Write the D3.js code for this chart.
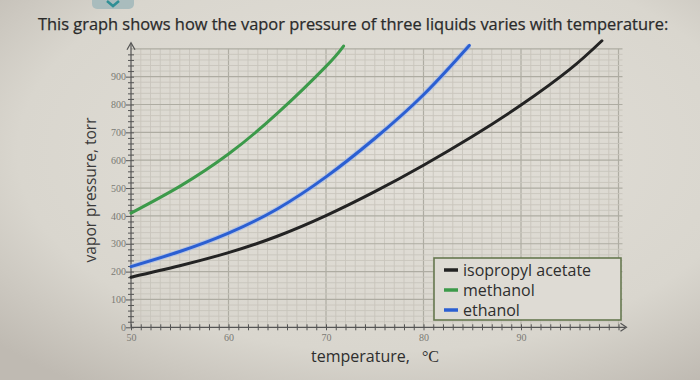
<!DOCTYPE html>
<html><head><meta charset="utf-8">
<script src="https://cdn.jsdelivr.net/npm/d3@7"></script>
<style>html,body{margin:0;padding:0;background:#dcd9d1;}svg{display:block;}</style>
</head><body>
<svg id="c" width="700" height="380"></svg>
<script>
// ---- data ----
const seriesNames = ["isopropyl acetate", "methanol", "ethanol"];
const seriesColors = ["#232323", "#3c9a4a", "#2b5fd2"];
const tempsIsopropyl = [50, 55, 60, 65, 70, 75, 80, 85, 90, 95, 98.3];
const pressIsopropyl = [180, 221, 268, 327, 401, 487, 582, 685, 798, 926, 1029];
const tempsMethanol = [50, 55, 60, 65, 70, 71.8];
const pressMethanol = [410, 506, 622, 768, 937, 1010];
const tempsEthanol = [50, 55, 60, 65, 70, 75, 80, 84.7];
const pressEthanol = [218, 272, 338, 425, 540, 678, 835, 1012];
const xTickLabels = [50, 60, 70, 80, 90];
const yTickLabels = [0, 100, 200, 300, 400, 500, 600, 700, 800, 900];
const titleText = "This graph shows how the vapor pressure of three liquids varies with temperature:";

const svg = d3.select("#c");
const defs = svg.append("defs");
const rg = defs.append("radialGradient").attr("id","bg").attr("cx","55%").attr("cy","40%").attr("r","75%");
rg.append("stop").attr("offset","0%").attr("stop-color","#e3e0d9");
rg.append("stop").attr("offset","70%").attr("stop-color","#d9d6ce");
rg.append("stop").attr("offset","100%").attr("stop-color","#bfbab2");
svg.append("rect").attr("width",700).attr("height",380).attr("fill","url(#bg)");

// small UI button fragment at top
svg.append("rect").attr("x",92).attr("y",-8).attr("width",42).attr("height",17).attr("rx",5).attr("fill","#a9bcbd");
svg.append("path").attr("d","M107,1 L113,6 L119,1").attr("fill","none").attr("stroke","#2f8f95").attr("stroke-width",2.5);

svg.append("text").attr("x",38).attr("y",30).attr("font-family","'Open Sans', sans-serif")
  .attr("font-size",16.4).attr("fill","#2a2a2a").attr("stroke","#2a2a2a").attr("stroke-width",0.25).text(titleText);

const x = d3.scaleLinear().domain([50, 100]).range([131, 618.5]);
const y = d3.scaleLinear().domain([0, 1000]).range([327.3, 48.8]);

// grid
const g = svg.append("g");
g.selectAll("line.vx").data(d3.range(51, 101, 1)).join("line")
  .attr("x1", d => x(d)).attr("x2", d => x(d)).attr("y1", y(0)).attr("y2", y(1000))
  .attr("stroke", d => d % 10 === 0 ? "#aeaca2" : "#c8c5bc").attr("stroke-width", d => d % 10 === 0 ? 1.2 : 0.9);
g.selectAll("line.hy").data(d3.range(20, 1001, 20)).join("line")
  .attr("x1", x(50)).attr("x2", x(100)+4).attr("y1", d => y(d)).attr("y2", d => y(d))
  .attr("stroke", d => d % 100 === 0 ? "#aeaca2" : "#c8c5bc").attr("stroke-width", d => d % 100 === 0 ? 1.2 : 0.9);

// axes
const axisColor = "#555";
const xAxis = svg.append("g").attr("transform", `translate(0,${y(0)})`)
  .call(d3.axisBottom(x).tickValues(d3.range(50, 101, 1)).tickFormat(d => xTickLabels.includes(d) ? d : "").tickSize(3).tickPadding(4));
xAxis.select(".domain").remove();
xAxis.selectAll(".tick line").attr("y1", -3).attr("y2", 3).attr("stroke", axisColor);
xAxis.selectAll(".tick text").attr("font-family","'Liberation Serif', serif").attr("font-size",10).attr("fill","#7a7a74");
svg.append("line").attr("x1", x(50)).attr("x2", x(100)+7).attr("y1", y(0)).attr("y2", y(0)).attr("stroke", axisColor).attr("stroke-width",1.2);
svg.append("path").attr("d", `M${x(100)+2},${y(0)-4} L${x(100)+8},${y(0)} L${x(100)+2},${y(0)+4}`).attr("fill","none").attr("stroke",axisColor).attr("stroke-width",1.2);

const yAxis = svg.append("g").attr("transform", `translate(${x(50)},0)`)
  .call(d3.axisLeft(y).tickValues(d3.range(0, 1000, 20)).tickFormat(d => yTickLabels.includes(d) ? d : "").tickSize(3).tickPadding(3));
yAxis.select(".domain").remove();
yAxis.selectAll(".tick line").attr("x1", d => d % 100 === 0 ? -5 : -3).attr("x2", 3).attr("stroke", axisColor);
yAxis.selectAll(".tick text").attr("font-family","'Liberation Serif', serif").attr("font-size",10).attr("fill","#7a7a74").attr("x",-5);
svg.append("line").attr("x1", x(50)).attr("x2", x(50)).attr("y1", y(0)).attr("y2", y(1000)-5).attr("stroke", axisColor).attr("stroke-width",1.2);
svg.append("path").attr("d", `M${x(50)-4},${y(1000)+1} L${x(50)},${y(1000)-6} L${x(50)+4},${y(1000)+1}`).attr("fill","none").attr("stroke",axisColor).attr("stroke-width",1.2);

// axis titles
svg.append("text").attr("transform","translate(96,190) rotate(-90)").attr("text-anchor","middle")
  .attr("font-family","'Open Sans', sans-serif").attr("font-size",15.5).attr("fill","#3a3a3a").text("vapor pressure, torr");
const xl = svg.append("text").attr("x",311).attr("y",362).attr("font-family","'Open Sans', sans-serif").attr("font-size",16).attr("fill","#2e2e2e");
xl.append("tspan").text("temperature,");
xl.append("tspan").attr("dx",12).attr("font-family","'Liberation Serif', serif").attr("font-size",16).text("°C");

// curves
const line = d3.line().x(d => x(d[0])).y(d => y(d[1])).curve(d3.curveNatural);
const sets = [
  d3.zip(tempsIsopropyl, pressIsopropyl),
  d3.zip(tempsMethanol, pressMethanol),
  d3.zip(tempsEthanol, pressEthanol)
];
[2, 1, 0].forEach(i => {
  if (i === 2) svg.append("path").attr("d", line(sets[i])).attr("fill","none").attr("stroke","#9fb8ee").attr("stroke-width",5).attr("opacity",0.6);
  svg.append("path").attr("d", line(sets[i])).attr("fill","none").attr("stroke", seriesColors[i]).attr("stroke-width", 3).attr("stroke-linecap","round");
});

// legend
const lg = svg.append("g").attr("transform","translate(434,258)");
lg.append("rect").attr("width",187).attr("height",62).attr("fill","#dedbd4").attr("stroke","#66784f").attr("stroke-width",1.6);
seriesNames.forEach((n, i) => {
  const yy = 12 + i * 20;
  lg.append("line").attr("x1",10).attr("x2",24).attr("y1",yy).attr("y2",yy).attr("stroke",seriesColors[i]).attr("stroke-width",3.5);
  lg.append("text").attr("x",29).attr("y",yy+5.5).attr("font-family","'Open Sans', sans-serif").attr("font-size",16).attr("fill","#2e2e2e").text(n);
});
</script>
</body></html>
